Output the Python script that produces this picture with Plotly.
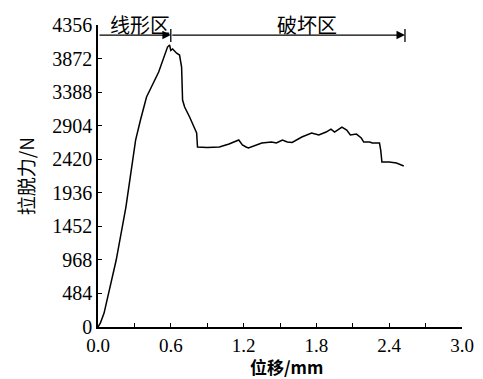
import plotly.graph_objects as go

# displacement (mm) and pull-out force (N)
displacement = [0.0, 0.02, 0.05, 0.09, 0.15, 0.23, 0.31, 0.35, 0.40, 0.50, 0.573, 0.59,
                0.60, 0.615, 0.648, 0.672, 0.689, 0.697, 0.714, 0.755, 0.813, 0.82,
                0.90, 1.00, 1.08, 1.16, 1.19, 1.22, 1.24, 1.35, 1.43, 1.47, 1.52, 1.56,
                1.60, 1.68, 1.76, 1.82, 1.88, 1.92, 1.95, 2.01, 2.05, 2.08, 2.13, 2.17,
                2.19, 2.24, 2.26, 2.32, 2.33, 2.34, 2.40, 2.46, 2.52]
force = [0, 60, 200, 490, 966, 1730, 2697, 2985, 3317, 3678, 4038, 4067,
         3990, 4010, 3950, 3923, 3750, 3274, 3173, 3029, 2798, 2596,
         2590, 2596, 2639, 2697, 2625, 2596, 2582, 2654, 2668, 2654, 2697, 2668,
         2662, 2740, 2798, 2769, 2812, 2855, 2812, 2884, 2841, 2769, 2783, 2726,
         2668, 2668, 2654, 2654, 2553, 2380, 2380, 2366, 2322]

x_ticks = [0.0, 0.6, 1.2, 1.8, 2.4, 3.0]
y_ticks = [0, 484, 968, 1452, 1936, 2420, 2904, 3388, 3872, 4356]

zone_bounds = [0.0, 0.6, 2.53]
zone_labels = ["线形区", "破坏区"]
zone_label_x = [0.35, 1.72]
arrow_y = 4211

serif = "Liberation Serif"
cjk = "Noto Sans CJK SC"

fig = go.Figure()
fig.add_trace(go.Scatter(x=displacement, y=force, mode="lines",
                         line=dict(color="black", width=1.5), showlegend=False))

# zone arrows and labels
for i in range(len(zone_bounds) - 1):
    fig.add_annotation(x=zone_bounds[i + 1], y=arrow_y, ax=zone_bounds[i], ay=arrow_y,
                       xref="x", yref="y", axref="x", ayref="y", text="",
                       showarrow=True, arrowhead=2, arrowsize=1.3, arrowwidth=1.3,
                       arrowcolor="black", standoff=0)
    fig.add_shape(type="line", x0=zone_bounds[i + 1], x1=zone_bounds[i + 1],
                  y0=4110, y1=4300, line=dict(color="black", width=1.3))
    fig.add_annotation(x=zone_label_x[i], y=1.003, xref="x", yref="paper",
                       text=zone_labels[i], showarrow=False, yanchor="middle",
                       font=dict(family=cjk, size=20, color="black"))

fig.add_annotation(x=-0.20, y=0.5, xref="paper", yref="paper", text="拉脱力/N",
                   showarrow=False, textangle=-90, xanchor="center", yanchor="middle",
                   font=dict(family=cjk, size=19, color="black"))
fig.add_annotation(x=0.519, y=-0.132, xref="paper", yref="paper", text="<b>位移/mm</b>",
                   showarrow=False, xanchor="center", yanchor="middle",
                   font=dict(family=cjk, size=17, color="black"))

fig.update_layout(
    width=475, height=371,
    margin=dict(l=90, r=21, t=17, b=52),
    plot_bgcolor="white", paper_bgcolor="white",
    font=dict(family=serif, size=20, color="black"),
    xaxis=dict(range=[0, 3.0], tickvals=x_ticks, ticktext=[f"{v:.1f}" for v in x_ticks],
               ticks="inside", ticklen=4, tickwidth=1.2, tickcolor="black",
               tickfont=dict(family=serif, size=19), automargin=False,
               showline=True, linecolor="black", linewidth=1.6, showgrid=False,
               zeroline=False, minor=dict(dtick=0.3, tick0=0, ticks="inside", ticklen=4,
                                          tickcolor="black")),
    yaxis=dict(range=[0, 4356], tickvals=y_ticks, ticks="inside", ticklen=4,
               tickfont=dict(family=serif, size=20), automargin=False,
               tickwidth=1.2, tickcolor="black", showline=True, linecolor="black",
               linewidth=1.6, showgrid=False, zeroline=False),
)
fig.write_html("out.html")
